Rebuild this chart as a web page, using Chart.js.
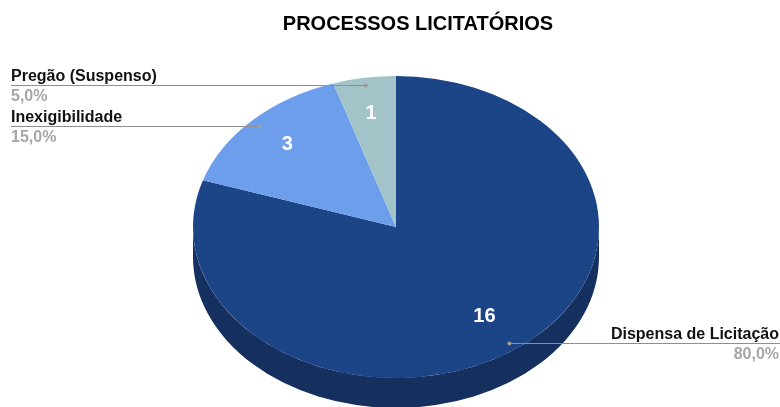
<!DOCTYPE html>
<html><head><meta charset="utf-8">
<style>html,body{margin:0;padding:0;background:#fff}canvas{display:block}</style>
<script src="https://cdn.jsdelivr.net/npm/chart.js@4"></script>
</head><body><canvas id="c" width="780" height="407"></canvas>
<script>
const chartTitle = 'PROCESSOS LICITATÓRIOS';
const categories = ['Dispensa de Licitação', 'Inexigibilidade', 'Pregão (Suspenso)'];
const values = [16, 3, 1];
const percentLabels = ['80,0%', '15,0%', '5,0%'];
const topColors = ['#1c4587', '#6d9eeb', '#a2c4c9'];
const sideColors = ['#15305e', '#4a6ea5', '#71898c'];
const labelSide = ['right', 'left', 'left'];

const X_STRETCH = 203 / 151, DEPTH = 30, FONT = '"Liberation Sans", Arial, sans-serif';

function pointOn(arc, f) {
  const mid = (arc.startAngle + arc.endAngle) / 2;
  return { x: arc.x + Math.cos(mid) * arc.outerRadius * f * X_STRETCH,
           y: arc.y + Math.sin(mid) * arc.outerRadius * f };
}
const tilt = {
  id: 'tilt',
  beforeDatasetsDraw(chart) {
    const ctx = chart.ctx, arcs = chart.getDatasetMeta(0).data;
    const { x, y } = arcs[0];
    ctx.save();
    ctx.translate(x, y); ctx.scale(X_STRETCH, 1); ctx.translate(-x, -y);
    arcs.forEach((a, i) => {
      const vals = [[a.startAngle, a.endAngle], [a.startAngle + 2 * Math.PI, a.endAngle + 2 * Math.PI]];
      vals.forEach(([s0, e0]) => {
        const s = Math.max(s0, 0), e = Math.min(e0, Math.PI);
        if (e <= s) return;
        ctx.beginPath();
        ctx.arc(a.x, a.y, a.outerRadius, s, e);
        ctx.arc(a.x, a.y + DEPTH, a.outerRadius, e, s, true);
        ctx.closePath();
        ctx.fillStyle = sideColors[i];
        ctx.fill();
      });
    });
  },
  afterDatasetsDraw(chart) {
    const ctx = chart.ctx, arcs = chart.getDatasetMeta(0).data, W = chart.width;
    ctx.restore();
    ctx.save();
    ctx.textBaseline = 'alphabetic';
    ctx.textAlign = 'center';
    ctx.fillStyle = '#000';
    ctx.font = 'bold 20px ' + FONT;
    ctx.fillText(chartTitle, 418, 30);
    arcs.forEach((a, i) => {
      const p = pointOn(a, 0.75);
      ctx.textAlign = 'center';
      ctx.textBaseline = 'middle';
      ctx.fillStyle = '#fff';
      ctx.font = 'bold 20px ' + FONT;
      ctx.fillText(String(values[i]), p.x - 1, p.y - 2);

      const q = pointOn(a, 0.95), ly = Math.round(q.y) + 0.5, right = labelSide[i] === 'right';
      const edge = right ? W : 11, tx = right ? W - 1 : 11;
      ctx.strokeStyle = '#8f8f8f'; ctx.lineWidth = 1;
      ctx.beginPath(); ctx.moveTo(edge, ly); ctx.lineTo(q.x, ly); ctx.stroke();
      ctx.fillStyle = '#9e9e9e';
      ctx.beginPath(); ctx.arc(q.x, ly, 2, 0, 2 * Math.PI); ctx.fill();
      ctx.textAlign = right ? 'right' : 'left';
      ctx.textBaseline = 'alphabetic';
      ctx.fillStyle = '#111';
      ctx.font = 'bold 16px ' + FONT;
      ctx.fillText(categories[i], tx, ly - 5);
      ctx.fillStyle = '#a6a6a6';
      ctx.fillText(percentLabels[i], tx, ly + 15);
    });
    ctx.restore();
  }
};
new Chart(document.getElementById('c'), {
  type: 'pie',
  data: { labels: categories, datasets: [{ data: values, backgroundColor: topColors, borderWidth: 0, clip: false }] },
  options: {
    responsive: false, animation: false,
    layout: { padding: { top: 76, bottom: 29, left: 12, right: 0 } },
    plugins: { legend: { display: false }, tooltip: { enabled: false }, title: { display: false } }
  },
  plugins: [tilt]
});
</script></body></html>
